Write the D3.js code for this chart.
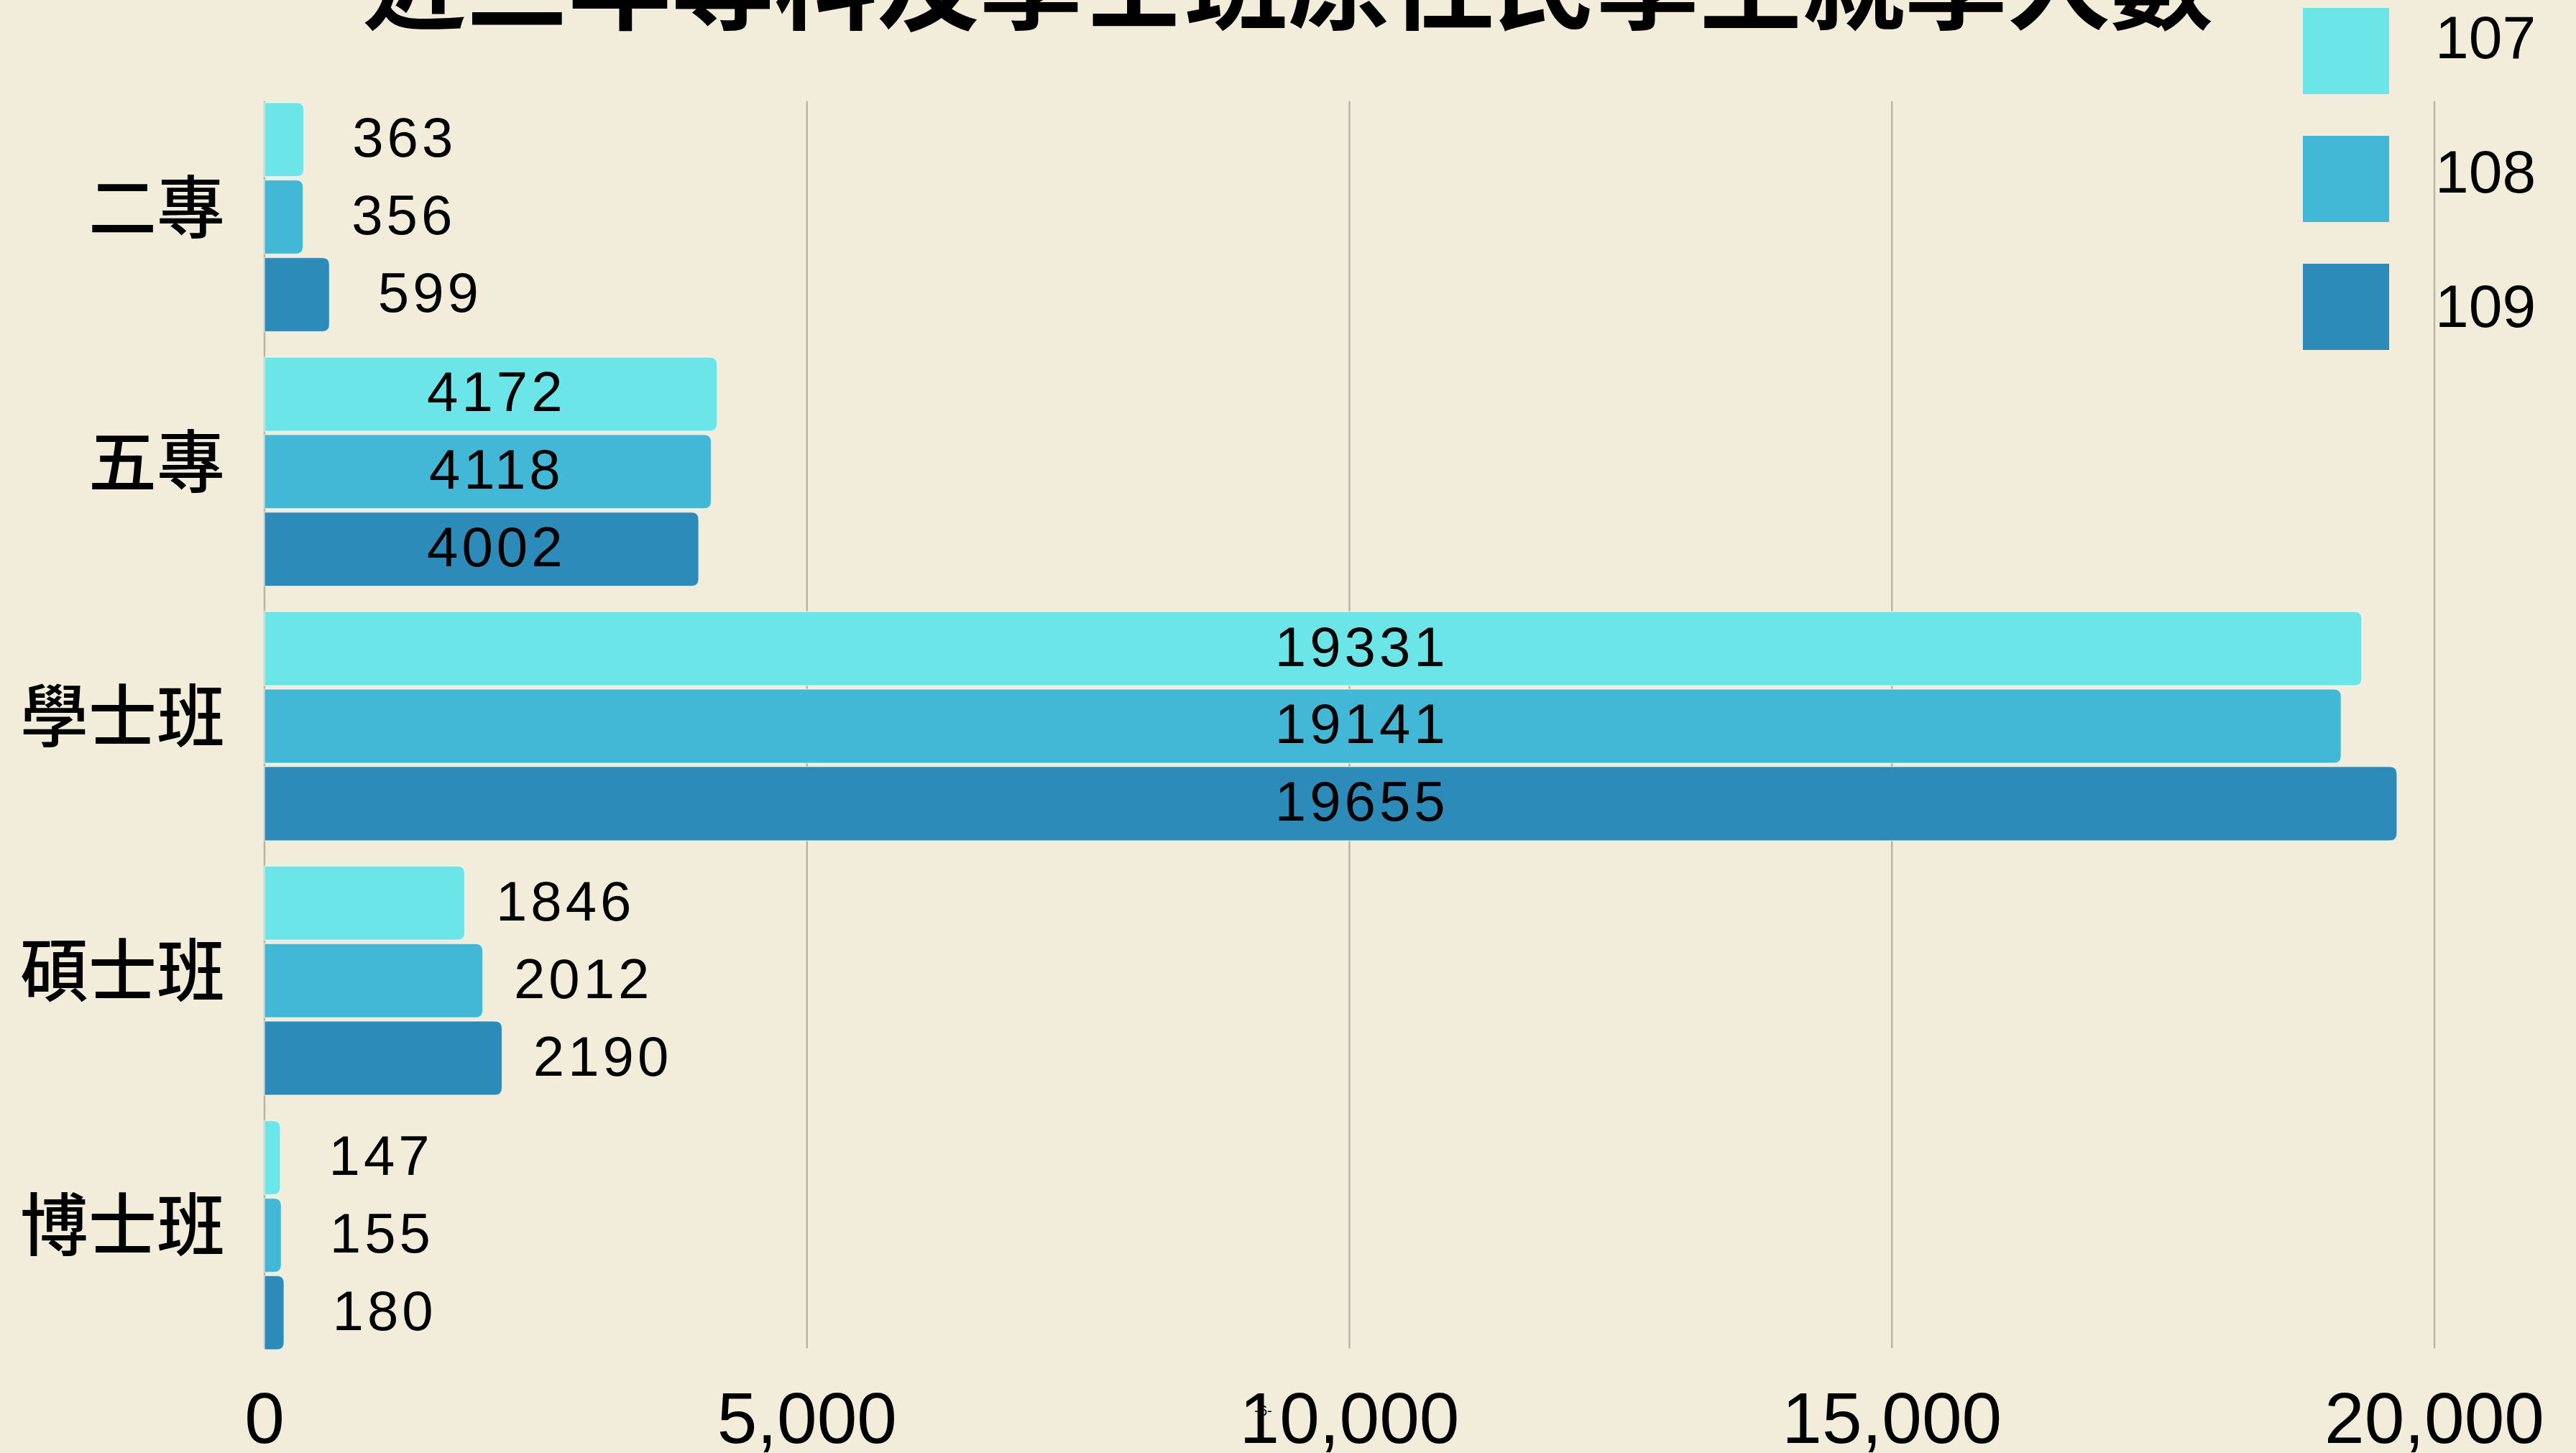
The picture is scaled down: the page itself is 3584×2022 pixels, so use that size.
<!DOCTYPE html>
<meta charset="utf-8">
<html>
<head>
<title>原住民學生就學人數</title>
<script src="https://cdn.jsdelivr.net/npm/d3@7"></script>
<style>
  body { margin: 0; background: #f2ecdb; }
  svg { display: block; }
  .grid line { stroke: #b8b4a8; stroke-width: 2.5px; }
  .val { font-family: "Liberation Sans", Arial, sans-serif; font-size: 78px; letter-spacing: 5px; fill: #000; }
  .cat { font-family: "Noto Sans CJK TC", sans-serif; font-size: 95px; font-weight: 500; fill: #000; }
  .tick-label { font-family: "Liberation Sans", Arial, sans-serif; font-size: 100px; fill: #000; }
</style>
</head>
<body>
<script>

// data
var categories = ["二專", "五專", "學士班", "碩士班", "博士班"];
var years = ["107", "108", "109"];
var v107 = [363, 4172, 19331, 1846, 147];
var v108 = [356, 4118, 19141, 2012, 155];
var v109 = [599, 4002, 19655, 2190, 180];
var xTicks = [0, 5000, 10000, 15000, 20000];
var colors = ["#6be5e8", "#42b7d6", "#2d8bb9"];
var title = "近三年專科及學士班原住民學生就學人數";

var width = 3584,
    height = 2022;

var series = [v107, v108, v109];
var rows = categories.map(function(c, i) {
  return { cat: c, values: years.map(function(y, j) { return { year: y, value: series[j][i] }; }) };
});

var svg = d3.select("body").append("svg")
    .attr("width", width)
    .attr("height", height);

svg.append("rect")
    .attr("width", width)
    .attr("height", height)
    .attr("fill", "#f2ecdb");

var x = d3.scaleLinear()
    .domain([0, 20000])
    .range([368, 3387]);

var y = d3.scaleBand()
    .domain(categories)
    .range([125, 1896])
    .paddingInner(0.1)
    .paddingOuter(0.05);

var ySub = d3.scaleBand()
    .domain(years)
    .range([0, y.bandwidth()])
    .paddingInner(0.045);

var color = d3.scaleOrdinal()
    .domain(years)
    .range(colors);

var plotTop = y(categories[0]) - 2,
    plotBottom = y(categories[categories.length - 1]) + y.bandwidth() - 2;

// grid lines
svg.append("g")
    .attr("class", "grid")
    .selectAll("line")
    .data(xTicks)
    .enter().append("line")
    .attr("x1", function(d) { return x(d); })
    .attr("x2", function(d) { return x(d); })
    .attr("y1", plotTop)
    .attr("y2", plotBottom);

// bars with rounded right end
function barPath(x0, x1, y0, h, r) {
  r = Math.min(r, (x1 - x0) / 2, h / 2);
  return "M" + x0 + "," + y0 +
    "H" + (x1 - r) +
    "Q" + x1 + "," + y0 + " " + x1 + "," + (y0 + r) +
    "V" + (y0 + h - r) +
    "Q" + x1 + "," + (y0 + h) + " " + (x1 - r) + "," + (y0 + h) +
    "H" + x0 + "Z";
}

var group = svg.append("g")
    .selectAll("g")
    .data(rows)
    .enter().append("g")
    .attr("transform", function(d) { return "translate(0," + y(d.cat) + ")"; });

group.selectAll("path")
    .data(function(d) { return d.values; })
    .enter().append("path")
    .attr("d", function(d) {
      return barPath(x(0), x(d.value), ySub(d.year), ySub.bandwidth(), 10);
    })
    .attr("fill", function(d) { return color(d.year); })
    .attr("stroke", "rgba(255,255,255,0.55)")
    .attr("stroke-width", 1.5);

// value labels: inside (shared centre) for wide bars, beside for short ones
group.each(function(row) {
  var mean = d3.mean(row.values, function(d) { return d.value; });
  d3.select(this).selectAll("text.val")
      .data(row.values)
      .enter().append("text")
      .attr("class", "val")
      .attr("text-anchor", "middle")
      .attr("dominant-baseline", "central")
      .attr("x", function(d) {
        return d.value > 3000 ? x(mean * 0.522) : x(d.value) + 140;
      })
      .attr("y", function(d) { return ySub(d.year) + ySub.bandwidth() / 2 - 3; })
      .text(function(d) { return d.value; });
});

// category labels
svg.append("g")
    .selectAll("text")
    .data(categories)
    .enter().append("text")
    .attr("class", "cat")
    .attr("text-anchor", "end")
    .attr("dominant-baseline", "central")
    .attr("x", x(0) - 55)
    .attr("y", function(d) { return y(d) + y.bandwidth() / 2 - 20; })
    .text(function(d) { return d; });

// x axis labels
svg.append("g")
    .selectAll("text")
    .data(xTicks)
    .enter().append("text")
    .attr("class", "tick-label")
    .attr("text-anchor", "middle")
    .attr("x", function(d) { return x(d); })
    .attr("y", 2008)
    .text(function(d) { return d3.format(",")(d); });

// title, mostly above the top edge
svg.append("text")
    .attr("x", width / 2)
    .attr("y", 30)
    .attr("text-anchor", "middle")
    .style("font-family", "'Noto Sans CJK TC', sans-serif")
    .style("font-size", "143px")
    .style("font-weight", 700)
    .text(title);

// legend
var legend = svg.append("g")
    .selectAll("g")
    .data(years)
    .enter().append("g");

legend.append("rect")
    .attr("x", 3204)
    .attr("y", function(d, i) { return 11 + i * 178; })
    .attr("width", 120)
    .attr("height", 120)
    .attr("fill", function(d) { return color(d); });

legend.append("text")
    .attr("x", 3388)
    .attr("y", function(d, i) { return 52 + i * 187; })
    .attr("dominant-baseline", "central")
    .style("font-family", "'Liberation Sans', Arial, sans-serif")
    .style("font-size", "84px")
    .text(function(d) { return d; });

// page mark near the middle tick
svg.append("text")
    .attr("x", x(10000) - 120)
    .attr("y", 1963)
    .attr("text-anchor", "middle")
    .attr("dominant-baseline", "central")
    .style("font-family", "'Liberation Sans', Arial, sans-serif")
    .style("font-size", "20px")
    .text("-6-");

</script>
</body>
</html>
